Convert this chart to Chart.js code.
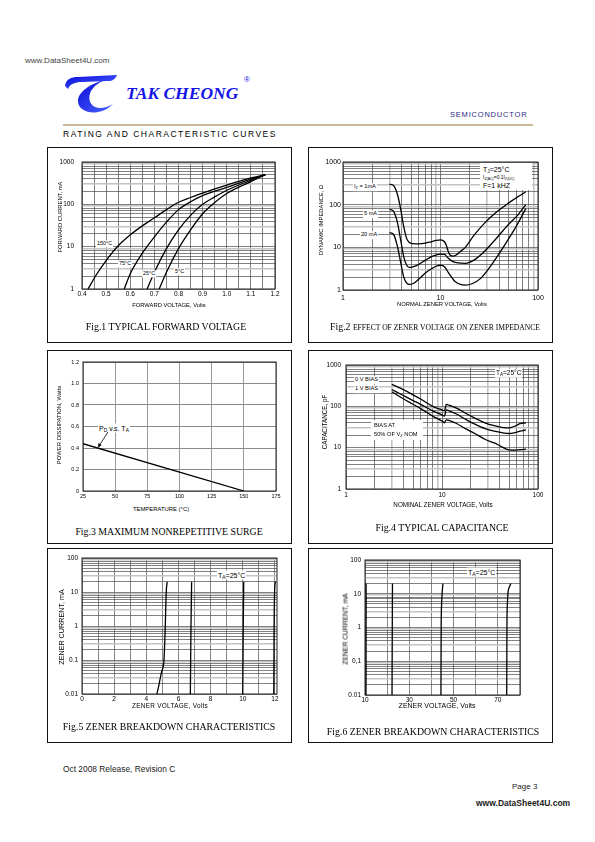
<!DOCTYPE html>
<html>
<head>
<meta charset="utf-8">
<script src="https://cdn.jsdelivr.net/npm/chart.js@4.4.1/dist/chart.umd.min.js"></script>
<style>
  body { margin: 0; background: #fff; font-family: "Liberation Sans", Arial, sans-serif; color: #000; }
  #page { position: relative; width: 595px; height: 842px; overflow: hidden; }
  .a { position: absolute; white-space: nowrap; line-height: 1; }
  .c { transform: translate(-50%, -50%); }
  .l { transform: translateY(-50%); }
  .v { transform: translate(-50%, -50%) rotate(-90deg); }
  .box { position: absolute; border: 1.3px solid #111; box-sizing: border-box; }
  canvas { position: absolute; }
  .cap { font-family: "Liberation Serif", "Times New Roman", serif; font-size: 9.8px; }
  .w { background: #fff; padding: 1px; }
  sub { font-size: 70%; vertical-align: -1px; line-height: 0; }
</style>
</head>
<body>
<div id="page">
  <!-- header -->
  <div class="a l" style="left:25px;top:61px;font-size:8px;color:#444">www.DataSheet4U.com</div>
  <svg class="a" style="left:62px;top:70px" width="56" height="44" viewBox="0 0 56 44">
    <defs>
      <linearGradient id="lg" x1="0" y1="0" x2="1" y2="1">
        <stop offset="0" stop-color="#0a0ad8"/>
        <stop offset="1" stop-color="#4c66ff"/>
      </linearGradient>
    </defs>
    <path fill="url(#lg)" d="M3,16 C4,9 9,7 16,7 L55,5 C53,9 51,11 46,11 L20,12 C13,12 8,14 6,19 Z"/>
    <path fill="url(#lg)" d="M42,10 C28,14 16,22 16,31 C16,40 27,44 36,42 C42,41 47,38 51,34 C44,38 38,39 33,37 C27,34 26,27 29,21 C32,16 37,12 44,10 Z"/>
  </svg>
  <div class="a l" style="left:126px;top:93px;font:italic bold 17.5px 'Liberation Serif',serif;color:#1414e6">TAK CHEONG</div>
  <div class="a c" style="left:247px;top:80px;font-size:8px;color:#1414e6">&reg;</div>
  <div class="a l" style="left:450px;top:115px;font-size:7.5px;letter-spacing:0.8px;color:#2b2b8a">SEMICONDUCTOR</div>
  <div class="a" style="left:63px;top:124px;width:470px;height:1.5px;background:#c9b99a"></div>
  <div class="a l" style="left:63px;top:134px;font-size:8.5px;letter-spacing:1.5px">RATING AND CHARACTERISTIC CURVES</div>

  <!-- frames -->
  <div class="box" style="left:47px;top:147px;width:245px;height:196px"></div>
  <div class="box" style="left:308px;top:147px;width:245px;height:196px"></div>
  <div class="box" style="left:47px;top:350px;width:245px;height:194px"></div>
  <div class="box" style="left:308px;top:350px;width:245px;height:194px"></div>
  <div class="box" style="left:47px;top:548px;width:245px;height:195px"></div>
  <div class="box" style="left:308px;top:548px;width:245px;height:195px"></div>

  <canvas id="fig1"></canvas>
  <canvas id="fig2"></canvas>
  <canvas id="fig3"></canvas>
  <canvas id="fig4"></canvas>
  <canvas id="fig5"></canvas>
  <canvas id="fig6"></canvas>

  <!-- fig1 text -->
  <div class="a v" style="left:61px;top:217px;font-size:5.8px">FORWARD CURRENT, mA</div>
  <div class="a c" style="left:169px;top:306px;font-size:5.8px">FORWARD VOLTAGE, Volts</div>
  <div class="a c cap" style="left:166px;top:327px">Fig.1 TYPICAL FORWARD VOLTAGE</div>
  <div class="a l w" style="left:96px;top:244px;font-size:5.4px">150°C</div>
  <div class="a l w" style="left:118px;top:264px;font-size:5.4px">75°C</div>
  <div class="a l w" style="left:142px;top:274px;font-size:5.4px">25°C</div>
  <div class="a l w" style="left:174px;top:272px;font-size:5.4px">5°C</div>

  <!-- fig2 text -->
  <div class="a v" style="left:322px;top:220px;font-size:5.8px">DYNAMIC IMPEDANCE, Ω</div>
  <div class="a c" style="left:442px;top:305px;font-size:5.8px">NORMAL ZENER VOLTAGE, Volts</div>
  <div class="a c cap" style="left:435px;top:327px">Fig.2 <span style="font-size:7.6px">EFFECT OF ZENER VOLTAGE ON ZENER IMPEDANCE</span></div>
  <div class="a l w" style="left:353px;top:187px;font-size:5.6px">I<sub>Z</sub> = 1mA</div>
  <div class="a l w" style="left:363px;top:214px;font-size:5.6px">5 mA</div>
  <div class="a l w" style="left:360px;top:235px;font-size:5.6px">20 mA</div>
  <div class="a" style="left:480px;top:163px;width:52px;height:27px;background:#fff"></div>
  <div class="a l" style="left:483px;top:169px;font-size:7px">T<sub>J</sub>=25°C</div>
  <div class="a l" style="left:483px;top:177px;font-size:5px">I<sub>Z(AC)</sub>=0.1I<sub>Z(DC)</sub></div>
  <div class="a l" style="left:483px;top:185px;font-size:7px">F=1 kHZ</div>

  <!-- fig3 text -->
  <div class="a v" style="left:60px;top:425px;font-size:5.9px">POWER DISSIPATION, Watts</div>
  <div class="a c" style="left:161px;top:510px;font-size:5.9px">TEMPERATURE (°C)</div>
  <div class="a c cap" style="left:169px;top:532px">Fig.3 MAXIMUM NONREPETITIVE SURGE</div>
  <div class="a l w" style="left:98px;top:428px;font-size:7px">P<sub>D</sub> v.s. T<sub>A</sub></div>
  <svg class="a" style="left:95px;top:431px" width="16" height="18" viewBox="0 0 16 18">
    <line x1="13" y1="1" x2="4" y2="15" stroke="#000" stroke-width="0.8"/>
    <path d="M3,17 L3.5,12 L6.5,14 Z" fill="#000"/>
  </svg>

  <!-- fig4 text -->
  <div class="a v" style="left:325px;top:422px;font-size:6.3px">CAPACITANCE, pF</div>
  <div class="a c" style="left:443px;top:505px;font-size:6.3px">NOMINAL ZENER VOLTAGE, Volts</div>
  <div class="a c cap" style="left:442px;top:528px">Fig.4 TYPICAL CAPACITANCE</div>
  <div class="a l w" style="left:354px;top:380px;font-size:5.7px">0 V BIAS</div>
  <div class="a l w" style="left:354px;top:389px;font-size:5.7px">1 V BIAS</div>
  <div class="a l w" style="left:495px;top:373px;font-size:6.5px">T<sub>A</sub>=25°C</div>
  <div class="a" style="left:371px;top:420px;width:52px;height:20px;background:#fff"></div>
  <div class="a l" style="left:374px;top:426px;font-size:5.7px">BIAS AT</div>
  <div class="a l" style="left:374px;top:435px;font-size:5.7px">50% OF V<sub>Z</sub> NOM</div>

  <!-- fig5 text -->
  <div class="a v" style="left:62px;top:627px;font-size:7.2px">ZENER CURRENT, mA</div>
  <div class="a c" style="left:170px;top:706px;font-size:6.4px;letter-spacing:0.3px">ZENER VOLTAGE, Volts</div>
  <div class="a c cap" style="left:169px;top:727px">Fig.5 ZENER BREAKDOWN CHARACTERISTICS</div>
  <div class="a l w" style="left:217px;top:575px;font-size:7px">T<sub>A</sub>=25°C</div>

  <!-- fig6 text -->
  <div class="a v" style="left:346px;top:629px;font-size:6.8px">ZENER CURRENT, mA</div>
  <div class="a c" style="left:437px;top:705px;font-size:7px">ZENER VOLTAGE, Volts</div>
  <div class="a c cap" style="left:433px;top:732px">Fig.6 ZENER BREAKDOWN CHARACTERISTICS</div>
  <div class="a l w" style="left:467px;top:572px;font-size:7px">T<sub>A</sub>=25°C</div>

  <!-- footer -->
  <div class="a l" style="left:63px;top:769px;font-size:8.4px;color:#222">Oct 2008 Release, Revision C</div>
  <div class="a l" style="left:512px;top:787px;font-size:8px;color:#222">Page 3</div>
  <div class="a l" style="left:476px;top:803px;font-size:8.5px;font-weight:bold;color:#222">www.DataSheet4U.com</div>
</div>

<script>
// Fig.1 forward voltage (V) / forward current (mA)
const vf150 = [0.425, 0.46, 0.5, 0.55, 0.6, 0.65, 0.7, 0.75, 0.8, 0.85, 0.9, 1.0, 1.1, 1.16];
const if150 = [1, 2.2, 4.7, 10.5, 19, 31, 48, 75, 112, 145, 185, 285, 420, 500];
const vf75 = [0.575, 0.6, 0.65, 0.7, 0.75, 0.8, 0.85, 0.9, 1.0, 1.1, 1.16];
const if75 = [1, 2.3, 7, 17, 38, 75, 115, 160, 250, 395, 500];
const vf25 = [0.67, 0.7, 0.75, 0.8, 0.85, 0.9, 0.95, 1.0, 1.1, 1.16];
const if25 = [1, 2.5, 9, 25, 55, 100, 150, 215, 370, 500];
const vf5 = [0.72, 0.75, 0.8, 0.85, 0.9, 0.95, 1.0, 1.1, 1.16];
const if5 = [1, 2.5, 9, 25, 60, 110, 180, 345, 500];

// Fig.2 zener voltage (V) / dynamic impedance (ohm)
const zv1 = [3.0, 3.3, 3.6, 3.9, 4.2, 4.5, 4.8, 5.2, 6, 7, 8, 9, 10, 11, 11.5, 12, 12.5, 13.5, 14.5, 16, 18, 22, 28, 36, 49, 62, 75];
const zi1 = [300, 280, 180, 80, 30, 16, 13, 12.2, 12, 12.5, 13.5, 14.5, 15, 13.5, 11, 8, 6.6, 6.2, 6.6, 8, 10, 19, 36, 62, 106, 152, 200];
const zv5 = [3.0, 3.3, 3.6, 3.9, 4.2, 4.5, 4.8, 5.2, 6, 7, 8, 9, 10, 11, 12, 13, 15, 18, 22, 28, 36, 49, 62, 75];
const zi5 = [78, 70, 40, 15, 6, 3.8, 3.4, 3.5, 4, 5, 6, 6.6, 6.9, 6.8, 5.6, 4.8, 4.3, 4.2, 5, 7.9, 14.7, 33, 57, 100];
const zv20 = [3.0, 3.3, 3.6, 3.9, 4.2, 4.5, 4.8, 5.2, 6, 7, 8, 9, 10, 11, 12, 13, 14, 16, 18, 21, 26, 36, 49, 62, 75];
const zi20 = [22, 20, 11, 4.5, 2, 1.45, 1.35, 1.4, 1.8, 2.5, 3.1, 3.6, 3.8, 3.5, 2.6, 2, 1.6, 1.35, 1.3, 1.4, 1.9, 5, 14.7, 36, 81];

// Fig.3 temperature (C) / power dissipation (W)
const tempC = [25, 150];
const powerW = [0.44, 0];

// Fig.4 nominal zener voltage (V) / capacitance (pF)
const capV = [3, 4, 5, 6, 8, 10, 10.6, 11.1, 12, 14, 18, 22, 28, 35, 42, 50, 57, 65, 75];
const cap0V = [340, 250, 190, 150, 100, 82, 78, 112, 105, 92, 66, 52, 40, 34, 31, 30, 33, 38, 40];
const cap1V = [255, 180, 138, 112, 78, 62, 58, 82, 77, 66, 47, 37, 29, 25, 23, 22, 23, 25, 27];
const cap50 = [225, 150, 112, 88, 58, 44, 40, 47, 45, 39, 28, 22, 16, 13, 10.5, 8.8, 8.7, 9, 9.2];

// Fig.5 zener voltage (V) / zener current (mA)
const bv1 = [4.66, 4.8, 4.95, 5.1, 5.18, 5.24, 5.3];
const bi1 = [0.01, 0.02, 0.045, 0.1, 1, 10, 20];
const bv2 = [6.74, 6.78, 6.82];
const bi2 = [0.01, 1, 20];
const bv3 = [10.0, 10.03, 10.06];
const bi3 = [0.01, 1, 20];
const bv4 = [11.93, 11.95, 11.98, 12.03];
const bi4 = [0.01, 1, 10, 20];

// Fig.6 zener voltage (V) / zener current (mA)
const hv1 = [10.45, 10.5];
const hi1 = [0.01, 20];
const hv2 = [22.2, 22.4];
const hi2 = [0.01, 20];
const hv3 = [44.3, 44.4, 44.6, 44.9, 45.2];
const hi3 = [0.01, 1, 5, 12, 20];
const hv4 = [74.0, 74.1, 74.3, 74.6, 75.2, 75.9];
const hi4 = [0.01, 1, 5, 11, 16, 20];

// tick values / labels
const vfTicks = [0.4, 0.45, 0.5, 0.55, 0.6, 0.65, 0.7, 0.75, 0.8, 0.85, 0.9, 0.95, 1.0, 1.05, 1.1, 1.15, 1.2];
const vfLabels = ['0.4', '', '0.5', '', '0.6', '', '0.7', '', '0.8', '', '0.9', '', '1.0', '', '1.1', '', '1.2'];
const tempTicks = [25, 50, 75, 100, 125, 150, 175];
const powerTicks = [0, 0.2, 0.4, 0.6, 0.8, 1.0, 1.2];
const powerLabels = ['0', '0.2', '0.4', '0.6', '0.8', '1.0', '1.2'];
const volt5Ticks = [0, 1, 2, 3, 4, 5, 6, 7, 8, 9, 10, 11, 12];
const volt5Labels = ['0', '', '2', '', '4', '', '6', '', '8', '', '10', '', '12'];
const volt6Ticks = [10, 20, 30, 40, 50, 60, 70, 80];
const volt6Labels = ['10', '', '30', '', '50', '', '70', ''];
const decades3 = [1, 10, 100, 1000];
const decLabels3 = ['1', '10', '100', '1000'];
const decades2 = [1, 10, 100];
const decLabels2 = ['1', '10', '100'];
const ampDecades = [0.01, 0.1, 1, 10, 100];
const ampLabels5 = ['0.01', '0.1', '1', '10', '100'];
const ampLabels6 = ['0.01', '0,1', '1', '10', '100'];

Chart.defaults.font.family = '"Liberation Sans", Arial, sans-serif';
Chart.defaults.color = '#000';

const pts = (xs, ys) => xs.map((x, i) => ({ x: x, y: ys[i] }));

function logTicks(min, max) {
  const out = [];
  const e0 = Math.round(Math.log10(min)), e1 = Math.round(Math.log10(max));
  for (let e = e0; e < e1; e++)
    for (let m = 1; m < 10; m++) out.push(+(m * Math.pow(10, e)).toPrecision(3));
  out.push(max);
  return out;
}

function mantissa(v) {
  return Math.round(v / Math.pow(10, Math.floor(Math.log10(v) + 1e-9)));
}
const logColor = c => { const v = c.tick && c.tick.value; if (!v) return '#4a4a4a'; const m = mantissa(v); return (m === 3 || m === 9) ? '#c4c4c4' : '#4a4a4a'; };
const logWidth = c => { const v = c.tick && c.tick.value; if (!v) return 0.7; const m = mantissa(v); return (m === 3 || m === 9) ? 1.6 : 0.7; };

function labeler(vals, labels) {
  return v => {
    const i = vals.findIndex(x => Math.abs(x - v) <= Math.abs(x) * 1e-6 + 1e-9);
    return i < 0 ? '' : labels[i];
  };
}

const frame = {
  id: 'frame',
  beforeDatasetsDraw(chart) {
    const { ctx, chartArea: a } = chart;
    ctx.save();
    ctx.strokeStyle = '#222';
    ctx.lineWidth = 1;
    ctx.strokeRect(a.left, a.top, a.right - a.left, a.bottom - a.top);
    ctx.restore();
  }
};

function axis(o, horiz) {
  return {
    type: o.type, min: o.min, max: o.max, bounds: 'data',
    afterBuildTicks: s => { s.ticks = o.ticks.map(v => ({ value: v })); },
    afterFit: s => {
      if (horiz) { s.height = 14; s.paddingLeft = 0; s.paddingRight = 0; }
      else { s.width = 34; s.paddingTop = 0; s.paddingBottom = 0; }
    },
    grid: { color: o.color || '#4a4a4a', lineWidth: o.width || 0.7, drawTicks: false },
    border: { display: false },
    ticks: { autoSkip: false, maxRotation: 0, padding: o.pad, font: { size: o.size || 6.5 }, callback: o.label }
  };
}

function plot(id, area, xo, yo, series) {
  const [l, t, r, b] = area;
  const c = document.getElementById(id);
  c.width = r - l + 44;
  c.height = b - t + 20;
  c.style.left = (l - 34) + 'px';
  c.style.top = (t - 6) + 'px';
  return new Chart(c.getContext('2d'), {
    type: 'scatter',
    data: {
      datasets: series.map(s => ({
        data: s, showLine: true, borderColor: '#000', borderWidth: 1.3,
        pointRadius: 0, cubicInterpolationMode: 'monotone', fill: false
      }))
    },
    options: {
      responsive: false, animation: false, events: [],
      layout: { padding: { left: 0, top: 6, right: 10, bottom: 0 } },
      plugins: { legend: { display: false }, tooltip: { enabled: false } },
      scales: { x: axis(xo, true), y: axis(yo, false) }
    },
    plugins: [frame]
  });
}

// Fig.1
plot('fig1', [82, 162, 275, 289],
  { type: 'linear', min: 0.4, max: 1.2, ticks: vfTicks, label: labeler(vfTicks, vfLabels), pad: 1 },
  { type: 'logarithmic', min: 1, max: 1000, ticks: logTicks(1, 1000), label: labeler(decades3, decLabels3), pad: 8, color: logColor, width: logWidth },
  [pts(vf150, if150), pts(vf75, if75), pts(vf25, if25), pts(vf5, if5)]);

// Fig.2
plot('fig2', [343, 162, 538, 290],
  { type: 'logarithmic', min: 1, max: 100, ticks: logTicks(1, 100), label: labeler(decades2, decLabels2), pad: 4, size: 7, color: logColor, width: logWidth },
  { type: 'logarithmic', min: 1, max: 1000, ticks: logTicks(1, 1000), label: labeler(decades3, decLabels3), pad: 2, size: 7, color: logColor, width: logWidth },
  [pts(zv1, zi1), pts(zv5, zi5), pts(zv20, zi20)]);

// Fig.3
plot('fig3', [83, 362, 276, 491],
  { type: 'linear', min: 25, max: 175, ticks: tempTicks, label: v => String(v), pad: 2, size: 5.5, color: '#9a9a9a', width: 1 },
  { type: 'linear', min: 0, max: 1.2, ticks: powerTicks, label: labeler(powerTicks, powerLabels), pad: 4, size: 5.5, color: '#8a8a8a', width: 1 },
  [pts(tempC, powerW)]);

// Fig.4
plot('fig4', [346, 365, 538, 489],
  { type: 'logarithmic', min: 1, max: 100, ticks: logTicks(1, 100), label: labeler(decades2, decLabels2), pad: 2, color: logColor, width: logWidth },
  { type: 'logarithmic', min: 1, max: 1000, ticks: logTicks(1, 1000), label: labeler(decades3, decLabels3), pad: 5, color: logColor, width: logWidth },
  [pts(capV, cap0V), pts(capV, cap1V), pts(capV, cap50)]);

// Fig.5
plot('fig5', [82, 558, 277, 694],
  { type: 'linear', min: 0, max: 12.13, ticks: volt5Ticks, label: labeler(volt5Ticks, volt5Labels), pad: 1, color: '#555' },
  { type: 'logarithmic', min: 0.01, max: 100, ticks: logTicks(0.01, 100), label: labeler(ampDecades, ampLabels5), pad: 4, color: logColor, width: logWidth },
  [pts(bv1, bi1), pts(bv2, bi2), pts(bv3, bi3), pts(bv4, bi4)]);

// Fig.6
plot('fig6', [365, 560, 520, 695],
  { type: 'linear', min: 10, max: 80, ticks: volt6Ticks, label: labeler(volt6Ticks, volt6Labels), pad: 1.5, color: '#555' },
  { type: 'logarithmic', min: 0.01, max: 100, ticks: logTicks(0.01, 100), label: labeler(ampDecades, ampLabels6), pad: 4, color: logColor, width: logWidth },
  [pts(hv1, hi1), pts(hv2, hi2), pts(hv3, hi3), pts(hv4, hi4)]);
</script>
</body>
</html>
